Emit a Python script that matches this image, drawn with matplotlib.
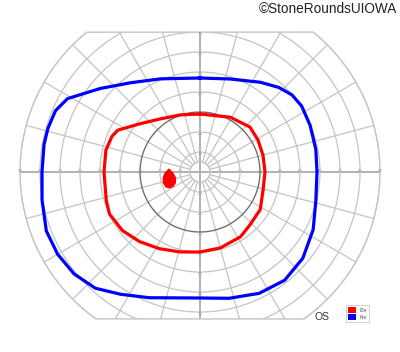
import numpy as np
import matplotlib
matplotlib.use('Agg')
import matplotlib.pyplot as plt
from matplotlib.patches import Polygon, Patch

plt.rcParams['font.family'] = ['Liberation Sans', 'DejaVu Sans']

# isopters: meridian (deg) and eccentricity (deg)
red_meridian = [90, 61, 42, 29, 15, 0, 344, 328, 313, 302, 285, 270, 256, 242, 229,
                217, 205, 197, 180, 167, 158, 153, 141, 127, 109]
red_ecc = [29, 31.3, 33.6, 33.1, 32.6, 32.5, 32.8, 35.5, 36.4, 38.2, 39.3, 40, 41.2,
           43.4, 46.1, 48.6, 49.9, 49.0, 48, 48.3, 47.5, 46.1, 38.4, 33.2, 30.2]

blue_meridian = [90, 72, 56, 47, 40, 33, 23, 11, 0, 346, 333, 320, 308, 296, 283, 270,
                 248, 237, 228, 219, 210, 201, 190, 180, 170, 164, 157, 151, 140, 128, 113]
blue_ecc = [47, 48.9, 54.1, 57.8, 60.0, 60.6, 59.8, 59.0, 58.5, 59.7, 63.5, 67.1, 68.7,
            67.5, 64.8, 63, 67.8, 72.9, 78.2, 81.0, 82.2, 82.3, 80.2, 79, 79.2, 79.1,
            78.5, 75.7, 65.0, 56.6, 50.6]

# blind spot outline (horizontal, vertical degrees)
spot_x = [-15.5, -13.5, -12.2, -12.3, -13.5, -15.3, -17.0, -18.3, -18.5, -17.5]
spot_y = [1.5, -0.5, -3.0, -5.5, -7.3, -8.0, -7.5, -5.5, -3.0, -0.5]

h_labels = [10, 20, 30, 40, 50, 60, 70, 80, 90]
v_labels = [10, 20, 30, 40, 50, 60, 70]
rings = [5, 10, 20, 30, 40, 50, 60, 70, 80, 90]
spokes = np.arange(0, 360, 15)

TOP, BOTTOM, RMAX = 70, -73.5, 90
GRID = '#c4c4c4'


def polar_xy(mer, ecc):
    t = np.deg2rad(np.asarray(mer, float))
    e = np.asarray(ecc, float)
    x, y = e * np.cos(t), e * np.sin(t)
    return np.append(x, x[0]), np.append(y, y[0])


fig = plt.figure(figsize=(4, 3.52), dpi=100)
ax = fig.add_axes([0, 0, 1, 1])
ax.set_xlim(-100, 100)
ax.set_ylim(-90, 86)
ax.axis('off')

# chart outline = 90 deg circle cut top and bottom
th = np.linspace(0, 2 * np.pi, 3000)
ox, oy = RMAX * np.cos(th), RMAX * np.sin(th)
keep = (oy <= TOP) & (oy >= BOTTOM)
outline = Polygon(np.column_stack([ox[keep], oy[keep]]), closed=True, fill=False,
                  edgecolor=GRID, lw=1.0, zorder=2)
ax.add_patch(outline)

for r in rings:
    col, lw = (GRID, 0.9) if r != 30 else ('#707070', 1.0)
    ln, = ax.plot(r * np.cos(th), r * np.sin(th), color=col, lw=lw, zorder=2)
    ln.set_clip_path(outline)

for a in spokes:
    t = np.deg2rad(a)
    if a % 90 == 0:
        r0, col, lw = 0, '#b0b0b0', 1.4
    else:
        r0, col, lw = 5, GRID, 0.9
    ln, = ax.plot([r0 * np.cos(t), 100 * np.cos(t)], [r0 * np.sin(t), 100 * np.sin(t)],
                  color=col, lw=lw, zorder=1)
    ln.set_clip_path(outline)

for v in h_labels:
    for s in (-1, 1):
        ax.text(s * v, 0.6, str(v), fontsize=3.2, color='#9a9a9a', ha='center', va='center', zorder=3)
for v in v_labels:
    for s in (-1, 1):
        ax.text(0, s * v - 1.2, str(v), fontsize=3.2, color='#9a9a9a', ha='center', va='center', zorder=3)

bx, by = polar_xy(blue_meridian, blue_ecc)
ax.plot(bx, by, color='#0000ff', lw=2.3, zorder=5, solid_joinstyle='round')
rx, ry = polar_xy(red_meridian, red_ecc)
ax.plot(rx, ry, color='#ff0000', lw=2.3, zorder=5, solid_joinstyle='round')
ax.fill(spot_x, spot_y, color='#ff0000', lw=0.8, zorder=5)

fig.text(397 / 400, 1 - 9 / 352, '\u00a9StoneRoundsUIOWA', fontsize=9.8, color='#222222',
         ha='right', va='center')
fig.text(322 / 400, 1 - 317 / 352, 'OS', fontsize=7.5, color='#333333', ha='center', va='center')

handles = [Patch(facecolor='#ff0000', edgecolor='none', label='I2e'),
           Patch(facecolor='#0000ff', edgecolor='none', label='I4e')]
leg = fig.legend(handles=handles, loc='upper left', bbox_to_anchor=(346 / 400, 1 - 305 / 352),
                 fontsize=3.8, frameon=True, fancybox=False, handlelength=1.5, handleheight=1.5,
                 borderpad=0.3, labelspacing=0.15, handletextpad=0.8, borderaxespad=0)
leg.get_frame().set_edgecolor('#bbbbbb')
leg.get_frame().set_linewidth(0.6)
for t in leg.get_texts():
    t.set_color('#555555')

fig.savefig('out.png', dpi=100)
